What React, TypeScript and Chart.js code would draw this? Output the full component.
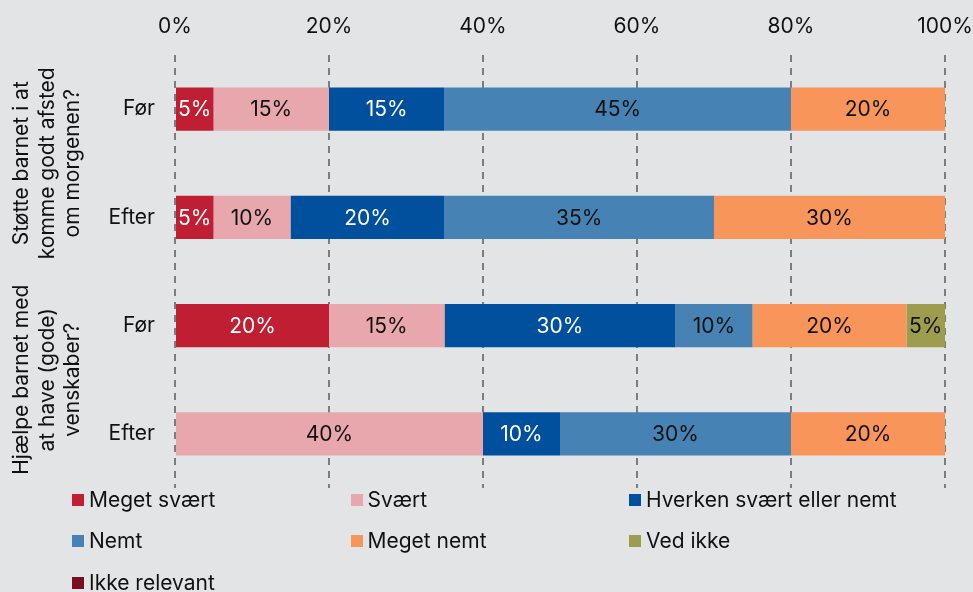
import React, { useEffect, useRef } from "react";
import { Chart, registerables } from "chart.js";

Chart.register(...registerables);

const categories = ["Før", "Efter", "Før", "Efter"];
const groupLabels = [
  ["Støtte barnet i at", "komme godt afsted", "om morgenen?"],
  ["Hjælpe barnet med", "at have (gode)", "venskaber?"],
];
const seriesNames = [
  "Meget svært",
  "Svært",
  "Hverken svært eller nemt",
  "Nemt",
  "Meget nemt",
  "Ved ikke",
  "Ikke relevant",
];
const megetSvaert = [5, 5, 20, 0];
const svaert = [15, 10, 15, 40];
const hverken = [15, 20, 30, 10];
const nemt = [45, 35, 10, 30];
const megetNemt = [20, 30, 20, 20];
const vedIkke = [0, 0, 5, 0];
const ikkeRelevant = [0, 0, 0, 0];
const seriesValues = [megetSvaert, svaert, hverken, nemt, megetNemt, vedIkke, ikkeRelevant];
const seriesColors = ["#c01e32", "#e8a7ac", "#00509e", "#4682b4", "#f7955a", "#9e9c4e", "#780f1e"];
const labelColors = ["#ffffff", "#111111", "#ffffff", "#111111", "#111111", "#111111", "#ffffff"];
const xTicks = [0, 20, 40, 60, 80, 100];

const FONT = "Inter, 'Noto Sans', sans-serif";
const FS = 21;
const BG = "#e3e4e6";

const valueLabelPlugin = {
  id: "valueLabels",
  afterDatasetsDraw(chart: any) {
    const ctx = chart.ctx;
    ctx.save();
    ctx.font = `${FS}px ${FONT}`;
    ctx.textAlign = "center";
    ctx.textBaseline = "middle";
    chart.data.datasets.forEach((ds: any, di: number) => {
      const meta = chart.getDatasetMeta(di);
      meta.data.forEach((bar: any, i: number) => {
        const v = ds.data[i];
        if (!v) return;
        ctx.fillStyle = labelColors[di];
        ctx.fillText(`${v}%`, (bar.x + bar.base) / 2, bar.y + 1);
      });
    });
    ctx.restore();
  },
};

const groupLabelPlugin = {
  id: "groupLabels",
  afterDraw(chart: any) {
    const ctx = chart.ctx;
    const y = chart.scales.y;
    ctx.save();
    ctx.font = `${FS}px ${FONT}`;
    ctx.fillStyle = "#111111";
    ctx.textAlign = "center";
    ctx.textBaseline = "middle";
    groupLabels.forEach((lines, g) => {
      const cy = (y.getPixelForValue(g * 2) + y.getPixelForValue(g * 2 + 1)) / 2;
      ctx.save();
      ctx.translate(47.5, cy);
      ctx.rotate(-Math.PI / 2);
      lines.forEach((line, li) => {
        ctx.fillText(line, 0, (li - 1) * 25.5);
      });
      ctx.restore();
    });
    ctx.restore();
  },
};

export default function App() {
  const canvasRef = useRef<HTMLCanvasElement>(null);

  useEffect(() => {
    document.body.style.margin = "0";
    document.body.style.background = BG;
    Chart.defaults.font.family = FONT;
    Chart.defaults.font.size = FS;
    Chart.defaults.color = "#111111";
    const chart = new Chart(canvasRef.current!, {
      type: "bar",
      data: {
        labels: categories,
        datasets: seriesNames.map((name, i) => ({
          label: name,
          data: seriesValues[i],
          backgroundColor: seriesColors[i],
          borderWidth: 0,
          barPercentage: 0.4,
          categoryPercentage: 1,
        })),
      },
      options: {
        indexAxis: "y",
        animation: false,
        responsive: true,
        maintainAspectRatio: false,
        layout: { padding: { left: 0, right: 28, top: 0, bottom: 2 } },
        plugins: {
          legend: { display: false },
          tooltip: { enabled: false },
        },
        scales: {
          x: {
            position: "top",
            stacked: true,
            min: 0,
            max: 100,
            afterBuildTicks(scale: any) {
              scale.ticks = xTicks.map((v) => ({ value: v }));
            },
            afterFit(scale: any) {
              scale.height = 55;
              scale.paddingLeft = 0;
              scale.paddingRight = 0;
            },
            ticks: {
              callback: (v: any) => `${v}%`,
              padding: 16,
              font: { size: FS },
              color: "#111111",
            },
            grid: {
              color: "#7d7d7d",
              lineWidth: 2,
              drawTicks: false,
            },
            border: { display: false, dash: [7, 6] },
          },
          y: {
            stacked: true,
            afterFit(scale: any) {
              scale.width = 175;
              scale.paddingTop = 0;
              scale.paddingBottom = 0;
            },
            ticks: {
              padding: 20,
              font: { size: FS },
              color: "#111111",
            },
            grid: { display: false, drawTicks: false },
            border: { display: false },
          },
        },
      },
      plugins: [valueLabelPlugin, groupLabelPlugin],
    } as any);
    return () => chart.destroy();
  }, []);

  return (
    <div style={{ position: "relative", width: 973, height: 592, background: BG, fontFamily: FONT }}>
      <div style={{ position: "absolute", left: 0, top: 0, width: 973, height: 490 }}>
        <canvas ref={canvasRef} />
      </div>
      <div
        style={{
          position: "absolute",
          left: 72,
          top: 479,
          display: "grid",
          gridTemplateColumns: "278.5px 278.5px 278.5px",
          gridAutoRows: "41.5px",
          alignItems: "center",
        }}
      >
        {seriesNames.map((name, i) => (
          <div key={name} style={{ display: "flex", alignItems: "center", fontSize: FS, color: "#111111", lineHeight: "24px", whiteSpace: "nowrap" }}>
            <span style={{ display: "inline-block", width: 12, height: 12, background: seriesColors[i], marginRight: 5 }} />
            <span>{name}</span>
          </div>
        ))}
      </div>
    </div>
  );
}
